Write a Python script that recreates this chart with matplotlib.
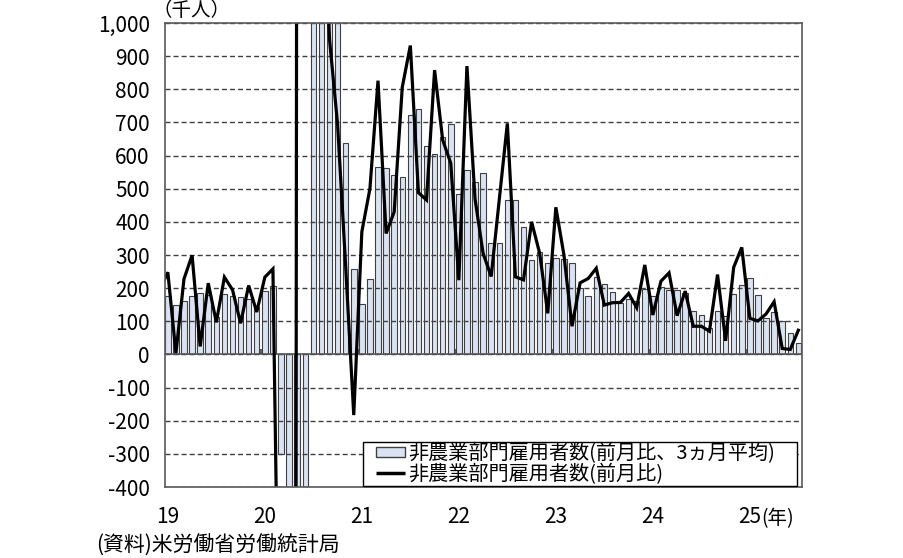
import numpy as np
import matplotlib
matplotlib.use("Agg")
import matplotlib.pyplot as plt
from matplotlib.patches import Patch, Rectangle
from matplotlib.lines import Line2D
from matplotlib.legend_handler import HandlerBase

plt.rcParams['font.family'] = ['Noto Sans CJK JP', 'DejaVu Sans']

# ---- data (thousands of persons) ----
# monthly change, Dec 2018 .. Jul 2025 (first value only partly visible at left edge)
monthly_change = [
    195,
    248, 4, 228, 299, 24, 215, 97, 233, 195, 94, 208, 128,            # 2019
    233, 258, -1394, -20477, 2793, 4596, 1726, 1583, 951, 694, 266, -183,  # 2020
    370, 500, 826, 365, 430, 806, 932, 488, 466, 858, 647, 577,      # 2021
    224, 870, 470, 305, 235, 467, 697, 234, 225, 400, 305, 124,      # 2022
    444, 300, 85, 216, 229, 260, 149, 156, 157, 184, 141, 270,       # 2023
    119, 221, 246, 117, 191, 85, 85, 70, 241, 41, 263, 323,          # 2024
    109, 101, 122, 159, 18, 15, 73,                                   # 2025
]
# 3-month average, Jan 2019 .. Jul 2025
avg_3m = [
    177, 149, 160, 177, 184, 179, 112, 182, 175, 174, 166, 143,      # 2019
    190, 206, -301, -7204, -6359, -4363, 3038, 2635, 1420, 1076, 637, 259,  # 2020
    151, 229, 565, 564, 540, 534, 723, 742, 629, 604, 657, 694,      # 2021
    483, 557, 521, 548, 337, 336, 466, 466, 385, 286, 310, 276,      # 2022
    291, 289, 276, 200, 177, 235, 213, 188, 154, 166, 161, 198,      # 2023
    177, 203, 195, 195, 185, 131, 120, 80, 132, 117, 182, 209,       # 2024
    232, 178, 111, 127, 100, 64, 35,                                  # 2025
]
year_labels = ['19', '20', '21', '22', '23', '24', '25']
y_ticks = list(range(-400, 1001, 100))

label_bar = '非農業部門雇用者数(前月比、3ヵ月平均)'
label_line = '非農業部門雇用者数(前月比)'
unit_label = '（千人）'
year_unit = '(年)'
source = '(資料)米労働省労働統計局'

bar_face = '#DAE3F3'
bar_edge = '#404040'


class OffsetPatchHandler(HandlerBase):
    def create_artists(self, legend, orig_handle, xdescent, ydescent,
                       width, height, fontsize, trans):
        w = 21.0
        h = 6.5
        x0 = -xdescent + width - w
        y0 = -ydescent + (height - h) / 2
        r = Rectangle((x0, y0), w, h, facecolor=bar_face, edgecolor=bar_edge,
                      linewidth=1.0, transform=trans)
        return [r]


class OffsetLineHandler(HandlerBase):
    def create_artists(self, legend, orig_handle, xdescent, ydescent,
                       width, height, fontsize, trans):
        w = 21.0
        y = -ydescent + height / 2
        x1 = -xdescent + width
        ln = Line2D([x1 - w, x1], [y, y], color='black', lw=2.5,
                    solid_capstyle='butt', transform=trans)
        return [ln]


# ---- figure ----
fig = plt.figure(figsize=(9.04, 5.58), dpi=100)
ax = fig.add_axes([165/904, 1 - 487/558, (802-165)/904, (487-23)/558])

n = len(avg_3m)
xb = np.arange(n)
xl = np.arange(-1, n)

ax.bar(xb, avg_3m, width=0.68, color=bar_face, edgecolor=bar_edge, linewidth=0.8, zorder=1)
ax.plot(xl, monthly_change, color='black', lw=2.3, zorder=4, solid_joinstyle='miter')

ax.set_xlim(-0.35, n - 0.55)
ax.set_ylim(-400, 1000)

ax.set_yticks(y_ticks)
ax.set_yticklabels([f'{v:,}' for v in y_ticks], fontsize=15)
ax.set_xticks(np.arange(0, n, 12))
ax.set_xticklabels(year_labels, fontsize=15)
ax.tick_params(axis='both', length=0)
ax.tick_params(axis='y', pad=11)
ax.tick_params(axis='x', pad=14)

ax.set_axisbelow(False)
ax.grid(axis='y', linestyle=(0, (3.6, 2.2)), color='#404040', lw=1.0)
ax.axhline(0, color='#595959', lw=1.2, zorder=2.7)
# small year-boundary tick marks on the zero line
ax.vlines(np.arange(11.5, n, 12), 0, 15, color='#404040', lw=1.2, zorder=2.7)

for s in ax.spines.values():
    s.set_color('#595959')
    s.set_linewidth(1.2)
    s.set_zorder(5)

bar_h = Patch(facecolor=bar_face, edgecolor=bar_edge)
line_h = Line2D([0], [0], color='black', lw=2.5)
x_left = (363 - 165) / (802 - 165)
x_right = (797 - 165) / (802 - 165)
leg = ax.legend([bar_h, line_h], [label_bar, label_line], loc='lower left',
                bbox_to_anchor=(x_left, 0.003, x_right - x_left, 0.2), mode='expand',
                fontsize=14.5, frameon=True, fancybox=False, framealpha=1,
                edgecolor='black', borderpad=0.02, labelspacing=0.0,
                handlelength=2.08, handletextpad=0.15, borderaxespad=0,
                handler_map={Patch: OffsetPatchHandler(), Line2D: OffsetLineHandler()})
leg.get_frame().set_linewidth(1.0)
leg.set_zorder(6)

fig.text(153/904, 1 - 11/558, unit_label, fontsize=14, ha='left', va='center')
fig.text(761/904, 1 - 519/558, year_unit, fontsize=14, ha='left', va='center')
fig.text(96/904, 1 - 546/558, source, fontsize=15, ha='left', va='center')

fig.savefig('out.png', dpi=100)
